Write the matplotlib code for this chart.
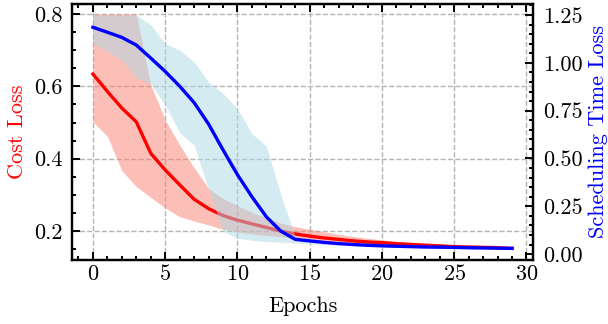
import numpy as np
import matplotlib
matplotlib.use("Agg")
import matplotlib.pyplot as plt
from matplotlib.ticker import MultipleLocator, AutoMinorLocator

# values
epochs = np.arange(30)

cost_mean = [0.634, 0.586, 0.540, 0.502, 0.415, 0.369, 0.328, 0.288, 0.262, 0.243,
             0.230, 0.220, 0.210, 0.200, 0.192, 0.186, 0.181, 0.177, 0.173, 0.170,
             0.168, 0.165, 0.163, 0.161, 0.159, 0.157, 0.156, 0.155, 0.154, 0.152]
cost_upper = [0.800, 0.800, 0.800, 0.800, 0.605, 0.507, 0.438, 0.375, 0.318, 0.290,
              0.270, 0.252, 0.236, 0.222, 0.212, 0.205, 0.198, 0.191, 0.185, 0.180,
              0.176, 0.172, 0.168, 0.165, 0.162, 0.160, 0.158, 0.157, 0.155, 0.154]
cost_lower = [0.502, 0.462, 0.367, 0.323, 0.293, 0.264, 0.240, 0.228, 0.217, 0.205,
              0.197, 0.192, 0.188, 0.184, 0.180, 0.176, 0.172, 0.169, 0.166, 0.163,
              0.161, 0.159, 0.157, 0.155, 0.154, 0.153, 0.152, 0.152, 0.151, 0.151]

time_mean = [1.186, 1.160, 1.133, 1.093, 1.025, 0.955, 0.878, 0.792, 0.680, 0.545,
             0.415, 0.300, 0.195, 0.120, 0.077, 0.069, 0.061, 0.055, 0.050, 0.046,
             0.043, 0.041, 0.039, 0.037, 0.036, 0.035, 0.033, 0.032, 0.031, 0.030]
time_upper = [1.250, 1.250, 1.250, 1.250, 1.200, 1.100, 1.067, 1.006, 0.900, 0.840,
              0.760, 0.630, 0.565, 0.310, 0.090, 0.076, 0.068, 0.061, 0.056, 0.051,
              0.048, 0.045, 0.042, 0.040, 0.038, 0.037, 0.035, 0.034, 0.033, 0.032]
time_lower = [1.102, 1.060, 1.015, 0.920, 0.890, 0.780, 0.635, 0.570, 0.340, 0.120,
              0.082, 0.072, 0.066, 0.062, 0.058, 0.054, 0.050, 0.046, 0.043, 0.040,
              0.038, 0.036, 0.034, 0.033, 0.032, 0.031, 0.030, 0.030, 0.029, 0.029]

plt.rcParams["font.family"] = "serif"
plt.rcParams["font.serif"] = ["cmr10", "DejaVu Serif"]
plt.rcParams["mathtext.fontset"] = "cm"
plt.rcParams["axes.formatter.use_mathtext"] = True
plt.rcParams["font.size"] = 8
plt.rcParams["axes.linewidth"] = 0.8

fig = plt.figure(figsize=(3.04, 1.62), dpi=200)
ax1 = fig.add_axes([0.1184, 0.1975, 0.7582, 0.7915])
ax2 = ax1.twinx()

# cost loss (left axis)
ax1.fill_between(epochs, cost_lower, cost_upper, color="salmon", alpha=0.5, lw=0)
ax1.plot(epochs, cost_mean, color="red", lw=1.2)
ax1.set_ylabel("Cost Loss", color="red", labelpad=2.6)

# scheduling time loss (right axis)
ax2.fill_between(epochs, time_lower, time_upper, color="lightblue", alpha=0.5, lw=0)
ax2.plot(epochs, time_mean, color="blue", lw=1.2)
ax2.set_ylabel("Scheduling Time Loss", color="blue", labelpad=2.2)

ax1.set_xlabel("Epochs", labelpad=4.5)
ax1.set_xlim(-1.45, 30.45)
ax1.set_ylim(0.12, 0.829)
ax2.set_ylim(-0.031, 1.31)

ax1.xaxis.set_major_locator(MultipleLocator(5))
ax1.xaxis.set_minor_locator(MultipleLocator(1))
ax1.yaxis.set_major_locator(MultipleLocator(0.2))
ax1.yaxis.set_minor_locator(AutoMinorLocator(4))
ax2.yaxis.set_major_locator(MultipleLocator(0.25))
ax2.yaxis.set_minor_locator(AutoMinorLocator(5))
ax2.yaxis.set_major_formatter(plt.FormatStrFormatter("%.2f"))
ax1.yaxis.set_major_formatter(plt.FormatStrFormatter("%.1f"))

ax1.tick_params(which="both", direction="in", top=True, width=0.7)
ax1.tick_params(which="major", length=3)
ax1.tick_params(which="minor", length=1.5)
ax1.tick_params(axis="x", pad=1.5)
ax2.tick_params(which="both", direction="in", width=0.7)
ax2.tick_params(which="major", length=3)
ax2.tick_params(which="minor", length=1.5)

ax1.grid(True, linestyle="--", linewidth=0.5, color="#b5b5b5")
ax1.set_axisbelow(True)

fig.savefig("out.png", dpi=200)
